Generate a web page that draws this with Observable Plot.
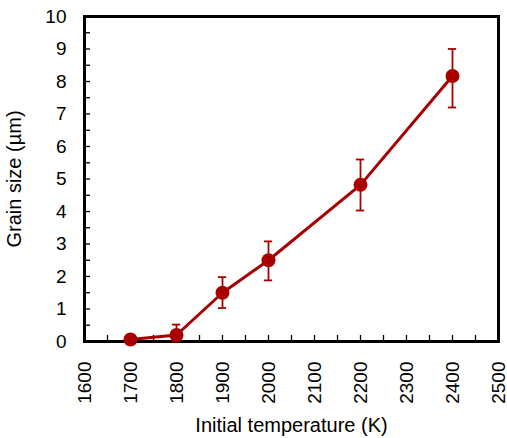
<!DOCTYPE html>
<html>
<head>
<meta charset="utf-8">
<script src="https://cdn.jsdelivr.net/npm/d3@7"></script>
<script src="https://cdn.jsdelivr.net/npm/@observablehq/plot@0.6"></script>
<style>
  html, body { margin: 0; padding: 0; background: #fff; }
  #chart svg { display: block; }
</style>
</head>
<body>
<div id="chart"></div>
<script>
const temps = [1700, 1800, 1900, 2000, 2200, 2400];
const grainSize = [0.06, 0.2, 1.5, 2.5, 4.82, 8.17];
const errLow = [0.06, 0.0, 1.03, 1.88, 4.03, 7.2];
const errHigh = [0.06, 0.52, 1.98, 3.08, 5.6, 9.0];
const xTicks = [1600, 1700, 1800, 1900, 2000, 2100, 2200, 2300, 2400, 2500];
const yTicks = [0, 1, 2, 3, 4, 5, 6, 7, 8, 9, 10];

const data = temps.map((t, i) => ({t, v: grainSize[i], lo: errLow[i], hi: errHigh[i]}));
const bars = data.filter(d => d.hi > d.lo);
const red = "#a80000";
const capHalf = 9;

const chart = Plot.plot({
  width: 507,
  height: 438,
  marginLeft: 84,
  marginRight: 9,
  marginTop: 16,
  marginBottom: 97,
  style: {fontFamily: "Liberation Sans, Arial, sans-serif", background: "#fff", color: "#000"},
  x: {domain: [1600, 2500], label: null},
  y: {domain: [0, 10], label: null},
  marks: [
    Plot.axisY({ticks: d3.range(0, 10.01, 0.5), tickSize: 6, dx: 6, text: null, label: null, strokeWidth: 1.3}),
    Plot.axisX({ticks: d3.range(1600, 2500.1, 50), tickSize: 6, dy: -6, text: null, label: null, strokeWidth: 1.3}),
    Plot.axisY({ticks: yTicks, tickSize: 0, tickPadding: 18, fontSize: 19, tickFormat: "d",
      label: "Grain size (µm)", labelAnchor: "center", labelArrow: "none", labelOffset: 78}),
    Plot.axisX({ticks: xTicks, tickSize: 0, tickPadding: 20, fontSize: 19, tickRotate: -90, tickFormat: "d",
      label: "Initial temperature (K)", labelAnchor: "center", labelArrow: "none", labelOffset: 90}),
    Plot.frame({stroke: "#000", strokeWidth: 3}),
    Plot.ruleX(bars, {x: "t", y1: "lo", y2: "hi", stroke: red, strokeWidth: 1.8}),
    Plot.ruleY(bars, {y: "hi", x1: d => d.t - capHalf, x2: d => d.t + capHalf, stroke: red, strokeWidth: 1.8}),
    Plot.ruleY(bars, {y: "lo", x1: d => d.t - capHalf, x2: d => d.t + capHalf, stroke: red, strokeWidth: 1.8}),
    Plot.line(data, {x: "t", y: "v", stroke: red, strokeWidth: 3}),
    Plot.dot(data, {x: "t", y: "v", r: 7, fill: red, stroke: "none"})
  ]
});
chart.querySelectorAll("[aria-label='y-axis label'] text, [aria-label='x-axis label'] text").forEach(t => t.setAttribute("font-size", 20));
document.getElementById("chart").appendChild(chart);
</script>
</body>
</html>
